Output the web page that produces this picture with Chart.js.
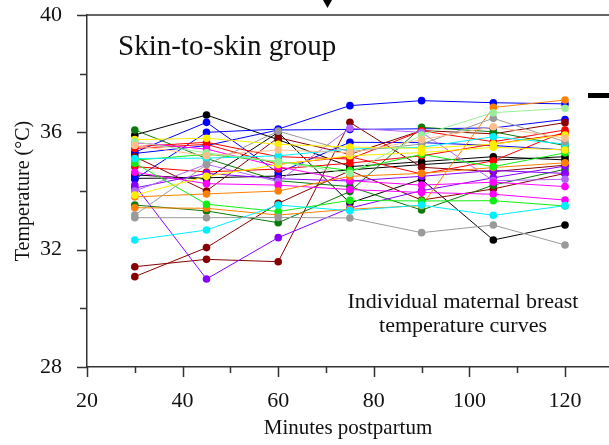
<!DOCTYPE html>
<html>
<head>
<meta charset="utf-8">
<script src="https://cdn.jsdelivr.net/npm/chart.js@4.4.1/dist/chart.umd.min.js"></script>
<style>
  html, body { margin: 0; padding: 0; background: #fff; }
  #wrap { width: 609px; height: 445px; }
</style>
</head>
<body>
<div id="wrap"><canvas id="chart" width="609" height="445"></canvas></div>
<script>
const minutes = [30, 45, 60, 75, 90, 105, 120];
const xTickLabels = [20, 40, 60, 80, 100, 120];
const yTickLabels = [28, 32, 36, 40];

// breast temperature (°C) per mother at each time point
const black1 = [35.91, 36.59, 35.75, 34.83, 35.0, 35.17, 35.06];
const black2 = [34.43, 34.45, 34.51, 34.72, 34.9, 35.05, 35.17];
const black3 = [34.55, 34.41, 36.0, 33.59, 34.4, 32.33, 32.84];
const blue1 = [34.4, 36.0, 36.11, 36.91, 37.08, 37.01, 36.97];
const blue2 = [35.32, 36.34, 34.62, 35.66, 35.65, 35.55, 35.4];
const blue3 = [35.28, 35.55, 36.08, 36.1, 36.12, 36.15, 36.44];
const red1 = [35.51, 35.66, 35.17, 35.09, 36.05, 35.68, 36.08];
const red2 = [35.45, 35.59, 34.91, 35.17, 34.58, 35.03, 36.02];
const red3 = [34.83, 34.65, 34.75, 34.95, 35.2, 35.6, 35.95];
const darkred1 = [31.08, 32.07, 33.58, 34.69, 33.69, 34.07, 34.6];
const darkred2 = [31.42, 31.67, 31.59, 36.34, 34.81, 34.66, 34.88];
const darkred3 = [35.17, 34.0, 35.82, 35.25, 36.06, 35.95, 36.33];
const darkgreen1 = [36.08, 35.11, 34.35, 34.15, 33.35, 34.2, 34.74];
const darkgreen2 = [33.52, 33.32, 32.92, 33.98, 36.17, 36.02, 35.55];
const green1 = [34.95, 33.55, 33.3, 33.68, 33.66, 33.67, 33.49];
const green2 = [35.05, 35.25, 35.0, 34.7, 35.25, 34.83, 35.3];
const lightgreen1 = [35.68, 35.3, 35.0, 34.6, 35.91, 36.67, 36.82];
const cyan1 = [32.33, 32.67, 33.52, 33.33, 33.52, 33.17, 33.5];
const cyan2 = [35.11, 35.12, 35.2, 35.43, 35.49, 35.85, 35.6];
const magenta1 = [35.65, 35.43, 34.83, 34.35, 34.2, 34.3, 34.15];
const magenta2 = [34.64, 34.25, 34.2, 34.05, 33.95, 33.89, 33.69];
const purple1 = [34.2, 31.0, 32.41, 33.42, 34.01, 34.45, 34.85];
const purple2 = [34.1, 34.6, 34.42, 34.34, 34.5, 34.7, 34.6];
const lilac1 = [34.0, 34.91, 34.32, 36.14, 36.0, 34.35, 34.4];
const yellow1 = [33.86, 34.5, 34.9, 35.2, 35.31, 35.49, 35.4];
const yellow2 = [35.75, 35.8, 35.59, 35.5, 35.45, 35.6, 35.91];
const orange1 = [33.43, 33.41, 33.18, 33.38, 33.5, 36.85, 37.1];
const orange2 = [33.8, 33.9, 34.0, 34.5, 34.6, 34.8, 34.96];
const gray1 = [33.09, 33.09, 33.1, 33.08, 32.58, 32.84, 32.16];
const gray2 = [33.18, 34.9, 36.04, 35.34, 35.6, 36.48, 35.68];
const salmon1 = [35.55, 35.2, 35.4, 35.3, 35.75, 36.19, 35.8];

const curves = [
  [salmon1, '#ffbf8c'], [lightgreen1, '#99ee99'], [yellow1, '#ffee00'], [yellow2, '#ffee00'],
  [gray1, '#9a9a9a'], [gray2, '#9a9a9a'], [cyan1, '#00f0ff'], [cyan2, '#00f0ff'],
  [green1, '#11ee11'], [green2, '#11ee11'], [orange1, '#ff8000'], [orange2, '#ff8000'],
  [magenta1, '#ff00ff'], [magenta2, '#ff00ff'], [lilac1, '#b266ff'], [purple2, '#8800ff'],
  [purple1, '#8800ff'], [red1, '#ff0000'], [red2, '#ff0000'], [red3, '#ff0000'],
  [darkgreen1, '#0a7a0a'], [darkgreen2, '#0a7a0a'], [darkred1, '#880000'], [darkred2, '#880000'],
  [darkred3, '#880000'], [blue1, '#0000ff'], [blue2, '#0000ff'], [blue3, '#0000ff'],
  [black1, '#000000'], [black2, '#000000'], [black3, '#000000']
];

const serif = "'Liberation Serif', 'DejaVu Serif', serif";

// fixed axis sizes, and no extra room for tick label overhang
function fixSize(prop, size) {
  return s => {
    s[prop] = size;
    s.paddingTop = s.paddingBottom = s.paddingLeft = s.paddingRight = 0;
  };
}

// only label the listed values (tick values can carry float noise)
function pickLabel(list) {
  return v => {
    const r = Math.round(v);
    return Math.abs(v - r) < 1e-6 && list.includes(r) ? String(r) : '';
  };
}

// axis frame, tick marks and the text inside the plot
const frame = {
  id: 'frame',
  afterDraw(chart) {
    const { ctx, chartArea: a, scales: { x, y } } = chart;
    ctx.save();
    ctx.strokeStyle = '#333';
    ctx.lineWidth = 1.5;
    ctx.beginPath();
    ctx.moveTo(a.left, a.top);
    ctx.lineTo(a.right, a.top);
    for (let v = 20; v <= x.max; v += 10) {
      const px = Math.round(x.getPixelForValue(v)) + 0.5;
      ctx.moveTo(px, a.bottom);
      ctx.lineTo(px, a.bottom + (v % 20 === 0 ? 10 : 6));
    }
    for (let v = 28; v <= 40; v += 2) {
      const py = Math.round(y.getPixelForValue(v)) + 0.5;
      ctx.moveTo(a.left, py);
      ctx.lineTo(a.left - (v % 4 === 0 ? 10 : 7), py);
    }
    ctx.stroke();

    ctx.fillStyle = '#111';
    ctx.font = '29px ' + serif;
    ctx.textAlign = 'left';
    ctx.textBaseline = 'alphabetic';
    ctx.fillText('Skin-to-skin group', 118, 55);

    ctx.font = '22px ' + serif;
    ctx.textAlign = 'center';
    ctx.textBaseline = 'middle';
    ctx.fillText('Individual maternal breast', 463, 302);
    ctx.fillText('temperature curves', 463, 326);

    // arrow head and bar marks at the figure edges
    ctx.fillStyle = '#000';
    ctx.beginPath();
    ctx.moveTo(323, 0);
    ctx.lineTo(332, 0);
    ctx.lineTo(327.5, 8);
    ctx.closePath();
    ctx.fill();
    ctx.fillRect(588, 93, 21, 5);
    ctx.restore();
  }
};

new Chart(document.getElementById('chart'), {
  type: 'line',
  data: {
    datasets: curves.map(([temps, color]) => ({
      data: minutes.map((m, i) => ({ x: m, y: temps[i] })),
      borderColor: color,
      backgroundColor: color,
      pointBackgroundColor: color,
      borderWidth: 1,
      pointRadius: 3.8,
      pointBorderWidth: 0,
      tension: 0
    }))
  },
  options: {
    responsive: false,
    animation: false,
    layout: { autoPadding: false, padding: { top: 15, left: 0, right: 0, bottom: 0 } },
    plugins: { legend: { display: false }, tooltip: { enabled: false } },
    scales: {
      x: {
        type: 'linear',
        min: 20,
        max: 129.2,
        afterFit: fixSize('height', 78),
        grid: { display: false, drawTicks: false },
        border: { display: true, color: '#333', width: 1.5 },
        ticks: {
          stepSize: 10,
          includeBounds: false,
          autoSkip: false,
          maxRotation: 0,
          padding: 21,
          color: '#111',
          font: { family: serif, size: 22 },
          callback: pickLabel(xTickLabels)
        },
        title: {
          display: true,
          text: 'Minutes postpartum',
          color: '#111',
          font: { family: serif, size: 21 },
          padding: { top: 0, bottom: 4 }
        }
      },
      y: {
        min: 28,
        max: 40,
        afterFit: fixSize('width', 87),
        grid: { display: false, drawTicks: false },
        border: { display: true, color: '#333', width: 1.5 },
        ticks: {
          stepSize: 2,
          autoSkip: false,
          padding: 25,
          color: '#111',
          font: { family: serif, size: 22 },
          callback: pickLabel(yTickLabels)
        },
        title: {
          display: true,
          text: 'Temperature (°C)',
          color: '#111',
          font: { family: serif, size: 20 },
          padding: { top: 12, bottom: 0 }
        }
      }
    }
  },
  plugins: [frame]
});
</script>
</body>
</html>
